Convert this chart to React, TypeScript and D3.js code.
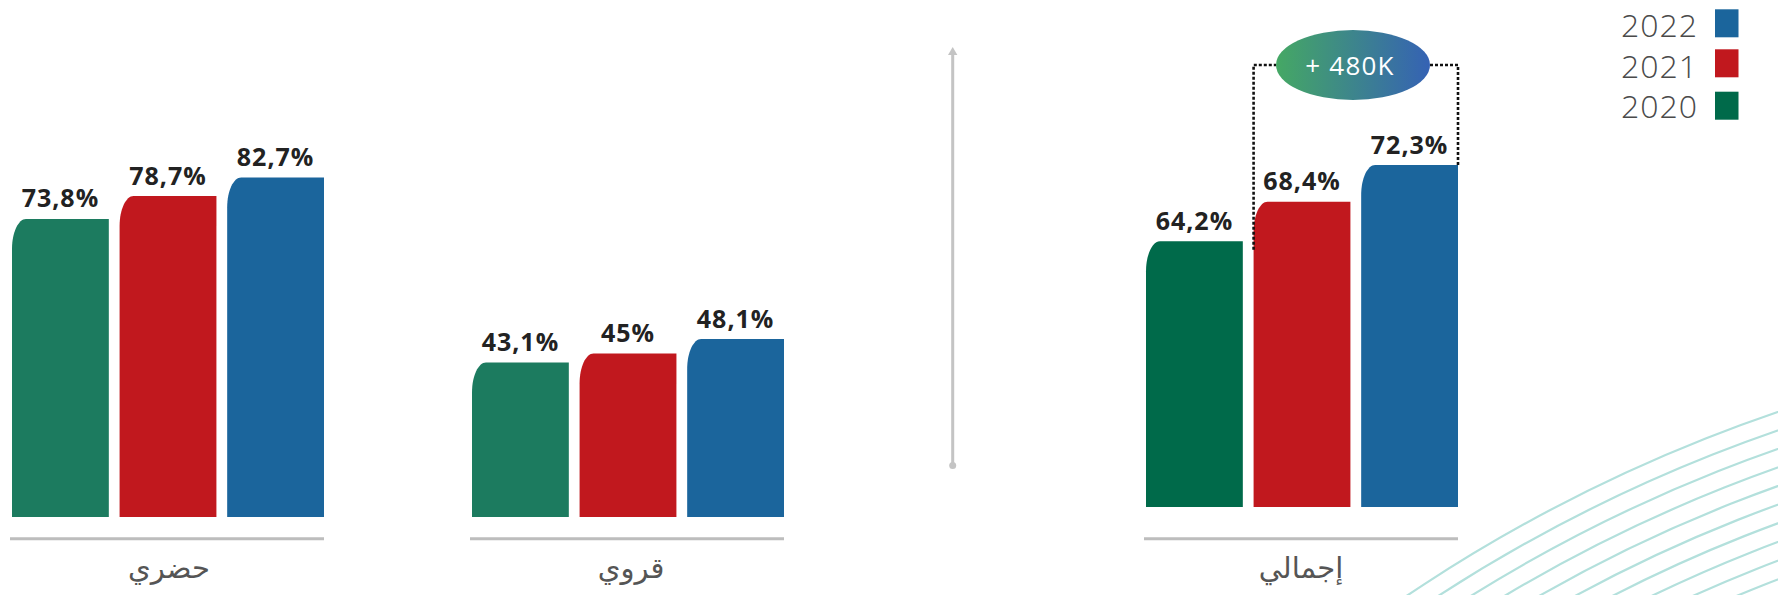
import * as React from "react";
import * as d3 from "d3";

// values
const years = ["2020", "2021", "2022"];
const categories = ["حضري", "قروي", "إجمالي"];
const urbanValues = [73.8, 78.7, 82.7];
const ruralValues = [43.1, 45, 48.1];
const totalValues = [64.2, 68.4, 72.3];
const legendYears = ["2022", "2021", "2020"];
const gainLabel = "+ 480K";

const W = 1778;
const H = 595;

const colorLeft: Record<string, string> = { "2020": "#1c7b5f", "2021": "#c1181e", "2022": "#1b659c" };
const colorTotal: Record<string, string> = { "2020": "#006a4a", "2021": "#c1181e", "2022": "#1b659c" };

const fmt = (v: number) => v.toString().replace(".", ",") + "%";

// bar with a rounded top-left corner only
function barPath(x: number, y: number, w: number, h: number, rx: number, ry: number) {
  const p = d3.path();
  p.moveTo(x, y + h);
  p.lineTo(x, y + ry);
  p.bezierCurveTo(x, y + ry * 0.45, x + rx * 0.45, y, x + rx, y);
  p.lineTo(x + w, y);
  p.lineTo(x + w, y + h);
  p.closePath();
  return p.toString();
}

export default function App() {
  const groups = [
    { name: categories[0], values: urbanValues, x0: 12, bottom: 517, colors: colorLeft, labelX: 169 },
    { name: categories[1], values: ruralValues, x0: 472, bottom: 517, colors: colorLeft, labelX: 631 },
    { name: categories[2], values: totalValues, x0: 1146, bottom: 507, colors: colorTotal, labelX: 1301 },
  ];

  const inner = d3.scaleBand<string>().domain(years).range([0, 312]).paddingInner(0.1).paddingOuter(0);
  // left two panels share a scale, the total panel (behind the divider) has its own
  const yLeft = d3.scaleLinear().domain([10, 80]).range([517, 190]);
  const yTotal = d3.scaleLinear().domain([36, 80]).range([507, 507 - 9.42 * 44]);
  const yFor = (gi: number) => (gi === 2 ? yTotal : yLeft);

  // decorative rings, bottom right
  const ringCx = 2285, ringCy = 1902;
  const rings = d3.range(16).map(i => 1574 - i * 17.5);

  // annotation between 2021 and 2022 total bars
  const tg = groups[2];
  const redX = tg.x0 + (inner("2021") as number);
  const blueX = tg.x0 + (inner("2022") as number) + inner.bandwidth();
  const redTop = yTotal(totalValues[1]);
  const blueTop = yTotal(totalValues[2]);
  const bubbleCx = 1353, bubbleCy = 65, bubbleRx = 77, bubbleRy = 35;

  return (
    <svg width={W} height={H} style={{ position: "absolute", left: 0, top: 0, fontFamily: "'Open Sans', sans-serif" }}>
      <defs>
        <linearGradient id="bubbleGrad" x1="0" x2="1" y1="0" y2="0">
          <stop offset="0%" stopColor="#45a864" />
          <stop offset="100%" stopColor="#3562b4" />
        </linearGradient>
      </defs>

      <g fill="none" stroke="#b3e0dc" strokeWidth={2.2}>
        {rings.map((r, i) => <circle key={i} cx={ringCx} cy={ringCy} r={r} />)}
      </g>

      {groups.map((g, gi) => {
        const y = yFor(gi);
        return (
          <g key={g.name}>
            {g.values.map((v, i) => {
              const yr = years[i];
              const bx = g.x0 + (inner(yr) as number);
              const top = y(v);
              return (
                <g key={yr}>
                  <path d={barPath(bx, top, inner.bandwidth(), g.bottom - top, 14, 30)} fill={g.colors[yr]} />
                  <text x={bx + inner.bandwidth() / 2} y={top - 11.5} textAnchor="middle"
                    fontSize={25} fontWeight={700} fill="#222" letterSpacing={1}>{fmt(v)}</text>
                </g>
              );
            })}
            <line x1={g.x0 - 2} x2={g.x0 + 312} y1={538.7} y2={538.7} stroke="#bdbdbd" strokeWidth={3} />
            <text x={g.labelX} y={578} textAnchor="middle" fontSize={29}
              fontFamily="'DejaVu Sans', sans-serif" fill="#555">{g.name}</text>
          </g>
        );
      })}

      {/* divider */}
      <line x1={952.7} x2={952.7} y1={52} y2={465} stroke="#c4c4c4" strokeWidth={3} />
      <path d={d3.line()([[948, 55], [952.7, 47], [957.4, 55]]) + "Z"} fill="#c4c4c4" />
      <circle cx={952.7} cy={465.5} r={3.5} fill="#c4c4c4" />

      {/* growth annotation */}
      <g fill="none" stroke="#111" strokeWidth={2.6} strokeDasharray="3,2">
        <path d={d3.line()([[redX, redTop + 48], [redX, bubbleCy], [bubbleCx - bubbleRx, bubbleCy]]) || ""} />
        <path d={d3.line()([[bubbleCx + bubbleRx, bubbleCy], [blueX, bubbleCy], [blueX, blueTop]]) || ""} />
      </g>
      <ellipse cx={bubbleCx} cy={bubbleCy} rx={bubbleRx} ry={bubbleRy} fill="url(#bubbleGrad)" />
      <text x={bubbleCx - 3} y={bubbleCy + 9.5} textAnchor="middle" fontSize={26} fill="#fff" letterSpacing={1.2}>{gainLabel}</text>

      {/* legend */}
      {legendYears.map((yr, i) => {
        const ty = [36.7, 78.3, 118.3][i];
        const sy = [9.3, 49.3, 91.7][i];
        return (
          <g key={yr}>
            <text x={1698} y={ty} textAnchor="end" fontSize={32} fontWeight={300} fill="#4a4a4a" letterSpacing={1}>{yr}</text>
            <rect x={1715} y={sy} width={23.5} height={28} fill={colorTotal[yr]} />
          </g>
        );
      })}
    </svg>
  );
}
